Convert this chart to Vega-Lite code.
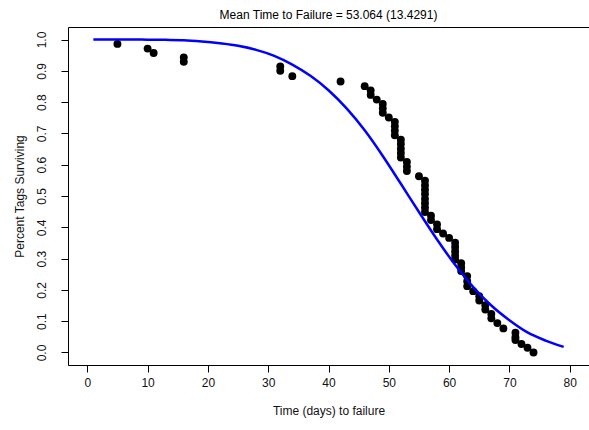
{
  "$schema": "https://vega.github.io/schema/vega-lite/v6.json",
  "width": 521,
  "height": 338,
  "autosize": "none",
  "padding": {"left": 68, "top": 27, "right": 0, "bottom": 65},
  "background": "white",
  "config": {
    "view": {"stroke": "black", "strokeWidth": 1},
    "font": "Liberation Sans",
    "axis": {"labelOverlap": false}
  },
  "title": {
    "text": "Mean Time to Failure = 53.064 (13.4291)",
    "fontSize": 12,
    "fontWeight": "normal",
    "font": "Liberation Sans",
    "color": "#000000",
    "anchor": "middle",
    "frame": "group",
    "baseline": "bottom",
    "offset": 7,
    "dy": 14
  },
  "datasets": {
    "tags": [
      {"day": 5, "surv": 0.986},
      {"day": 10, "surv": 0.971},
      {"day": 11, "surv": 0.957},
      {"day": 16, "surv": 0.943},
      {"day": 16, "surv": 0.929},
      {"day": 32, "surv": 0.914},
      {"day": 32, "surv": 0.900},
      {"day": 34, "surv": 0.883},
      {"day": 42, "surv": 0.866},
      {"day": 46, "surv": 0.851},
      {"day": 47, "surv": 0.837},
      {"day": 47, "surv": 0.823},
      {"day": 48, "surv": 0.808},
      {"day": 49, "surv": 0.794},
      {"day": 49, "surv": 0.780},
      {"day": 49, "surv": 0.766},
      {"day": 50, "surv": 0.751},
      {"day": 51, "surv": 0.737},
      {"day": 51, "surv": 0.723},
      {"day": 51, "surv": 0.709},
      {"day": 51, "surv": 0.694},
      {"day": 52, "surv": 0.680},
      {"day": 52, "surv": 0.666},
      {"day": 52, "surv": 0.651},
      {"day": 52, "surv": 0.637},
      {"day": 52, "surv": 0.623},
      {"day": 53, "surv": 0.609},
      {"day": 53, "surv": 0.594},
      {"day": 53, "surv": 0.580},
      {"day": 55, "surv": 0.563},
      {"day": 56, "surv": 0.549},
      {"day": 56, "surv": 0.534},
      {"day": 56, "surv": 0.520},
      {"day": 56, "surv": 0.506},
      {"day": 56, "surv": 0.491},
      {"day": 56, "surv": 0.477},
      {"day": 56, "surv": 0.463},
      {"day": 56, "surv": 0.449},
      {"day": 57, "surv": 0.437},
      {"day": 57, "surv": 0.423},
      {"day": 58, "surv": 0.409},
      {"day": 58, "surv": 0.394},
      {"day": 59, "surv": 0.380},
      {"day": 60, "surv": 0.366},
      {"day": 61, "surv": 0.351},
      {"day": 61, "surv": 0.337},
      {"day": 61, "surv": 0.323},
      {"day": 61, "surv": 0.309},
      {"day": 61, "surv": 0.297},
      {"day": 62, "surv": 0.285},
      {"day": 62, "surv": 0.272},
      {"day": 62, "surv": 0.260},
      {"day": 63, "surv": 0.244},
      {"day": 63, "surv": 0.228},
      {"day": 63, "surv": 0.212},
      {"day": 64, "surv": 0.196},
      {"day": 65, "surv": 0.180},
      {"day": 65, "surv": 0.166},
      {"day": 66, "surv": 0.151},
      {"day": 66, "surv": 0.137},
      {"day": 67, "surv": 0.123},
      {"day": 67, "surv": 0.109},
      {"day": 68, "surv": 0.094},
      {"day": 69, "surv": 0.077},
      {"day": 71, "surv": 0.063},
      {"day": 71, "surv": 0.049},
      {"day": 71, "surv": 0.040},
      {"day": 72, "surv": 0.027},
      {"day": 73, "surv": 0.015},
      {"day": 74, "surv": 0.0}
    ],
    "curve": [
      {"day": 1, "surv": 1.0},
      {"day": 4, "surv": 1.0},
      {"day": 7, "surv": 1.0},
      {"day": 10, "surv": 0.9995},
      {"day": 13, "surv": 0.999},
      {"day": 16, "surv": 0.998},
      {"day": 19, "surv": 0.994},
      {"day": 22, "surv": 0.988},
      {"day": 25, "surv": 0.980},
      {"day": 28, "surv": 0.967},
      {"day": 31, "surv": 0.948},
      {"day": 34, "surv": 0.920},
      {"day": 37, "surv": 0.884},
      {"day": 40, "surv": 0.838},
      {"day": 43, "surv": 0.780},
      {"day": 46, "surv": 0.710},
      {"day": 49, "surv": 0.628},
      {"day": 52, "surv": 0.539},
      {"day": 55, "surv": 0.449},
      {"day": 58, "surv": 0.361},
      {"day": 61, "surv": 0.280},
      {"day": 64, "surv": 0.209},
      {"day": 67, "surv": 0.150},
      {"day": 70, "surv": 0.103},
      {"day": 73, "surv": 0.064},
      {"day": 76, "surv": 0.038},
      {"day": 79, "surv": 0.018}
    ]
  },
  "encoding": {
    "x": {
      "field": "day",
      "type": "quantitative",
      "scale": {"domain": [-3.2, 83.2], "nice": false, "zero": false},
      "axis": {
        "title": "Time (days) to failure",
        "values": [0, 10, 20, 30, 40, 50, 60, 70, 80],
        "grid": false,
        "domain": false,
        "tickSize": 7,
        "tickColor": "black",
        "labelFontSize": 12,
        "labelColor": "#111111",
        "labelPadding": 5,
        "labelOverlap": false,
        "labelFont": "Liberation Sans",
        "titleFont": "Liberation Sans",
        "titleFontSize": 12,
        "titleFontWeight": "normal",
        "titleColor": "#111111",
        "titlePadding": 17
      }
    },
    "y": {
      "field": "surv",
      "type": "quantitative",
      "scale": {"domain": [-0.04, 1.04], "nice": false, "zero": false},
      "axis": {
        "title": "Percent Tags Surviving",
        "values": [0, 0.1, 0.2, 0.3, 0.4, 0.5, 0.6, 0.7, 0.8, 0.9, 1.0],
        "format": ".1f",
        "grid": false,
        "domain": false,
        "tickSize": 7,
        "tickColor": "black",
        "labelAngle": 270,
        "labelAlign": "center",
        "labelBaseline": "bottom",
        "labelOverlap": false,
        "labelFlush": false,
        "labelFontSize": 12,
        "labelColor": "#111111",
        "labelPadding": 13,
        "labelFont": "Liberation Sans",
        "titleFont": "Liberation Sans",
        "titleFontSize": 12,
        "titleFontWeight": "normal",
        "titleColor": "#111111",
        "titlePadding": 9
      }
    }
  },
  "layer": [
    {
      "data": {"name": "tags"},
      "mark": {"type": "circle", "color": "black", "opacity": 1, "size": 62}
    },
    {
      "data": {"name": "curve"},
      "mark": {"type": "line", "color": "#0000FF", "strokeWidth": 2.5, "interpolate": "monotone"}
    }
  ]
}
